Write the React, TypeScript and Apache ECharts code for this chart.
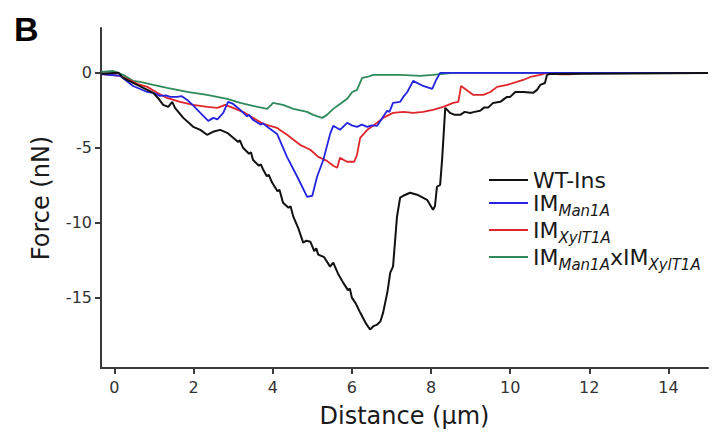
import React, { useEffect, useRef } from "react";
import * as echarts from "echarts";

const xTicks = [0, 2, 4, 6, 8, 10, 12, 14];
const yTicks = [-15, -10, -5, 0];

const seriesNames = ["WT-Ins", "IM Man1A", "IM XylT1A", "IM Man1A x IM XylT1A"];

const wtIns = [
  [-0.33, -0.05], [-0.03, 0.0], [0.1, 0.02], [0.22, -0.33], [0.47, -0.67], [0.73, -1.0],
  [0.98, -1.33], [1.1, -1.67], [1.23, -2.13], [1.36, -2.27], [1.46, -1.93], [1.53, -2.33],
  [1.74, -3.0], [1.99, -3.6], [2.17, -3.8], [2.34, -4.13], [2.49, -3.93], [2.67, -3.8],
  [2.85, -4.0], [3.0, -4.33], [3.12, -4.6], [3.17, -4.5], [3.25, -5.0], [3.4, -5.4],
  [3.45, -5.3], [3.5, -5.8], [3.65, -6.2], [3.7, -6.1], [3.76, -6.47], [3.85, -6.9],
  [3.9, -6.8], [3.98, -7.3], [4.12, -7.9], [4.17, -7.8], [4.26, -8.67], [4.4, -9.0],
  [4.45, -8.9], [4.52, -9.6], [4.65, -10.4], [4.77, -11.33], [4.85, -11.2], [4.95, -11.27],
  [5.05, -11.9], [5.1, -11.7], [5.15, -12.13], [5.3, -12.3], [5.45, -12.93], [5.53, -12.67],
  [5.65, -13.4], [5.78, -14.0], [5.9, -14.5], [5.95, -14.4], [6.0, -15.0], [6.1, -15.4],
  [6.21, -16.0], [6.35, -16.7], [6.46, -17.13], [6.55, -16.9], [6.64, -16.8], [6.72, -16.6],
  [6.79, -16.0], [6.9, -14.6], [6.97, -13.33], [7.04, -12.93], [7.14, -9.6], [7.22, -8.33],
  [7.3, -8.2], [7.47, -8.0], [7.65, -8.13], [7.9, -8.47], [8.05, -9.13], [8.1, -8.9],
  [8.15, -7.6], [8.23, -7.47], [8.28, -5.8], [8.36, -2.33], [8.48, -2.67], [8.6, -2.8],
  [8.74, -2.8], [8.85, -2.6], [8.99, -2.67], [9.1, -2.6], [9.24, -2.53], [9.35, -2.3],
  [9.45, -2.3], [9.57, -2.0], [9.75, -1.93], [9.92, -1.6], [10.0, -1.6], [10.13, -1.27],
  [10.33, -1.27], [10.58, -1.33], [10.68, -1.13], [10.76, -0.8], [10.88, -0.67], [10.93, -0.13],
  [11.0, -0.07], [15.0, 0.0],
];

const man1A = [
  [-0.33, -0.07], [0.15, -0.2], [0.47, -0.87], [0.83, -1.27], [1.0, -1.35], [1.15, -1.53],
  [1.3, -1.5], [1.41, -1.6], [1.58, -1.6], [1.7, -1.55], [1.84, -1.8], [2.0, -2.2],
  [2.17, -2.67], [2.37, -3.2], [2.5, -3.0], [2.6, -3.1], [2.75, -2.67], [2.87, -1.93],
  [3.0, -2.07], [3.18, -2.47], [3.35, -2.9], [3.4, -2.8], [3.5, -3.13], [3.7, -3.45],
  [3.75, -3.35], [3.86, -3.6], [4.11, -4.07], [4.36, -5.6], [4.62, -6.93], [4.87, -8.27],
  [5.0, -8.2], [5.12, -6.93], [5.28, -5.8], [5.45, -4.07], [5.53, -3.53], [5.7, -3.8],
  [5.88, -3.33], [6.0, -3.5], [6.13, -3.6], [6.25, -3.45], [6.39, -3.6], [6.5, -3.5],
  [6.64, -3.53], [6.79, -2.93], [6.89, -2.53], [6.95, -2.6], [7.04, -2.0], [7.22, -1.93],
  [7.3, -1.6], [7.4, -1.27], [7.55, -0.53], [7.8, -0.87], [8.03, -1.07], [8.13, -0.47],
  [8.23, 0.0], [15.0, 0.0],
];

const xylT1A = [
  [-0.33, -0.07], [0.15, -0.2], [0.58, -0.73], [0.83, -0.93], [1.08, -1.33], [1.33, -1.67],
  [1.66, -1.93], [1.99, -2.13], [2.34, -2.27], [2.6, -2.33], [2.8, -2.13], [3.0, -2.33],
  [3.3, -2.67], [3.5, -3.0], [3.76, -3.4], [4.11, -3.67], [4.36, -4.13], [4.69, -4.8],
  [4.95, -5.13], [5.15, -5.6], [5.37, -5.87], [5.53, -6.2], [5.63, -6.33], [5.7, -5.67],
  [5.88, -5.93], [6.06, -5.93], [6.13, -5.47], [6.21, -4.33], [6.39, -3.8], [6.64, -3.33],
  [6.79, -3.0], [7.04, -2.67], [7.3, -2.6], [7.55, -2.67], [7.8, -2.6], [8.05, -2.47],
  [8.31, -2.27], [8.56, -2.0], [8.69, -1.93], [8.76, -0.87], [9.07, -1.47], [9.32, -1.47],
  [9.5, -1.27], [9.67, -0.93], [9.92, -0.8], [10.17, -0.6], [10.33, -0.47], [10.51, -0.27],
  [10.76, -0.13], [10.93, 0.0], [11.26, -0.1], [11.52, -0.1], [11.77, 0.0], [15.0, 0.0],
];

const doubleIM = [
  [-0.33, 0.07], [-0.03, 0.13], [0.22, -0.13], [0.47, -0.53], [0.65, -0.6], [0.98, -0.8],
  [1.33, -1.0], [1.84, -1.27], [2.34, -1.47], [2.85, -1.73], [3.18, -2.0], [3.5, -2.2],
  [3.86, -2.4], [4.01, -2.0], [4.26, -2.13], [4.52, -2.4], [4.87, -2.6], [5.02, -2.8],
  [5.25, -3.0], [5.37, -2.8], [5.53, -2.4], [5.7, -2.07], [5.88, -1.73], [6.01, -1.27],
  [6.13, -1.13], [6.26, -0.33], [6.39, -0.27], [6.54, -0.13], [7.22, -0.13], [7.73, -0.2],
  [8.05, -0.13], [8.56, 0.0], [15.0, 0.0],
];

const seriesData = [wtIns, man1A, xylT1A, doubleIM];
const seriesColors = ["#111111", "#2424e0", "#e0262c", "#2e8a5c"];
const seriesWidths = [2, 1.8, 1.8, 1.8];

const legendLabels: Record<string, string> = {
  "WT-Ins": "{a|WT-Ins}",
  "IM Man1A": "{a|IM}{s|Man1A}",
  "IM XylT1A": "{a|IM}{s|XylT1A}",
  "IM Man1A x IM XylT1A": "{a|IM}{s|Man1A}{a|xIM}{s|XylT1A}",
};

const FONT = "DejaVu Sans";

export default function App() {
  const ref = useRef<HTMLDivElement>(null);
  useEffect(() => {
    if (!ref.current) return;
    const chart = echarts.init(ref.current, null, { renderer: "svg" });
    chart.setOption({
      animation: false,
      backgroundColor: "#ffffff",
      grid: { left: 101, right: 5, top: 28, bottom: 67, containLabel: false },
      graphic: [
        {
          type: "text",
          left: 14,
          top: 12,
          style: { text: "B", fontSize: 34, fontWeight: "bold", fontFamily: "Liberation Sans", fill: "#000" },
        },
      ],
      legend: {
        orient: "vertical",
        left: 484,
        top: 164,
        icon: "rect",
        itemWidth: 39,
        itemHeight: 2,
        itemGap: 1,
        data: seriesNames,
        formatter: (name: string) => legendLabels[name] || name,
        textStyle: {
          fontFamily: FONT,
          color: "#1a1a1a",
          rich: {
            a: { fontSize: 22, fontFamily: FONT, color: "#1a1a1a", lineHeight: 30 },
            s: { fontSize: 15, fontFamily: FONT, fontStyle: "italic", color: "#1a1a1a", verticalAlign: "bottom" },
          },
        },
      },
      xAxis: {
        type: "value",
        min: -0.34,
        max: 15,
        name: "Distance (µm)",
        nameLocation: "middle",
        nameGap: 36,
        nameTextStyle: { fontSize: 24, fontFamily: FONT, color: "#1a1a1a" },
        axisLine: { onZero: false, lineStyle: { color: "#3a3a3a", width: 2 } },
        axisTick: { show: true, length: 6, customValues: xTicks, lineStyle: { color: "#3a3a3a", width: 2 } },
        axisLabel: { customValues: xTicks, fontSize: 16, fontFamily: FONT, color: "#333", margin: 11 },
        splitLine: { show: false },
      },
      yAxis: {
        type: "value",
        min: -19.7,
        max: 3,
        name: "Force (nN)",
        nameLocation: "middle",
        nameGap: 48,
        nameTextStyle: { fontSize: 24, fontFamily: FONT, color: "#1a1a1a" },
        axisLine: { onZero: false, lineStyle: { color: "#3a3a3a", width: 2 } },
        axisTick: { show: true, length: 6, customValues: yTicks, lineStyle: { color: "#3a3a3a", width: 2 } },
        axisLabel: { customValues: yTicks, fontSize: 16, fontFamily: FONT, color: "#333", margin: 9 },
        splitLine: { show: false },
      },
      series: seriesNames.map((name, i) => ({
        name,
        type: "line",
        data: seriesData[i],
        symbol: "none",
        showSymbol: false,
        color: seriesColors[i],
        lineStyle: { color: seriesColors[i], width: seriesWidths[i] },
        z: 10 - i,
      })),
    });
    return () => chart.dispose();
  }, []);
  return (
    <div
      ref={ref}
      style={{ position: "fixed", left: 0, top: 0, width: 713, height: 435, background: "#fff" }}
    />
  );
}
